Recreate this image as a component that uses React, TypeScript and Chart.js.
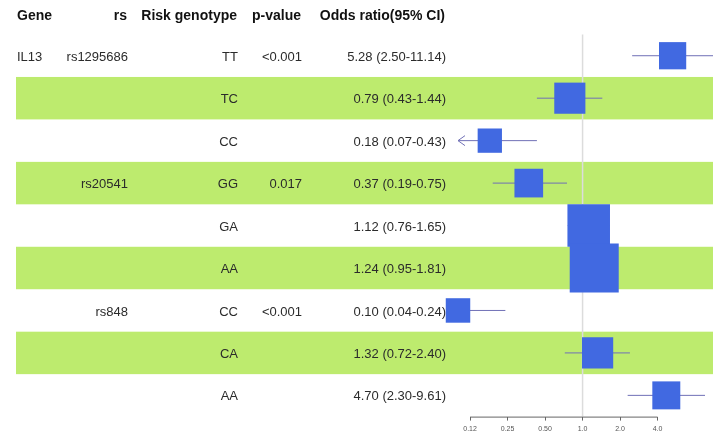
import { useEffect, useRef } from "react";
import { Chart, registerables } from "chart.js";

Chart.register(...registerables);

// Table columns
const genes = ["IL13", "", "", "", "", "", "", "", ""];
const snps = ["rs1295686", "", "", "rs20541", "", "", "rs848", "", ""];
const genotypes = ["TT", "TC", "CC", "GG", "GA", "AA", "CC", "CA", "AA"];
const pValues = ["<0.001", "", "", "0.017", "", "", "<0.001", "", ""];
const headers = ["Gene", "rs", "Risk genotype", "p-value", "Odds ratio(95% CI)"];

// Odds ratios with 95% confidence intervals
const oddsRatios = [5.28, 0.79, 0.18, 0.37, 1.12, 1.24, 0.1, 1.32, 4.7];
const ciLower = [2.5, 0.43, 0.07, 0.19, 0.76, 0.95, 0.04, 0.72, 2.3];
const ciUpper = [11.14, 1.44, 0.43, 0.75, 1.65, 1.81, 0.24, 2.4, 9.61];

// Axis
const tickValues = [0.125, 0.25, 0.5, 1, 2, 4];
const tickLabels = ["0.12", "0.25", "0.50", "1.0", "2.0", "4.0"];
const xLimits = [0.1, 11.14];

const FONT = "'Liberation Sans', Arial, Helvetica, sans-serif";
const BAND = "#bdeb6e";
const BOX = "#4169e1";
const CI_LINE = "#7070b6";

// column anchors: [x, align]
const columns: [number, CanvasTextAlign][] = [
  [17, "left"],
  [128, "right"],
  [238, "right"],
  [302, "right"],
  [446, "right"],
];

const ciText = oddsRatios.map(
  (v, i) => `${v.toFixed(2)} (${ciLower[i].toFixed(2)}-${ciUpper[i].toFixed(2)})`
);

// box side grows with precision (inverse standard error on the log scale)
const boxSides = oddsRatios.map((_, i) => {
  const se = Math.log(ciUpper[i] / ciLower[i]) / 3.92;
  return 10.7 + 6.3 / se;
});

const tablePlugin = {
  id: "forestTable",
  beforeDatasetsDraw(chart: any) {
    const { ctx, chartArea, scales } = chart;
    const y = scales.y;
    const x = scales.x;
    ctx.save();
    // alternating row bands
    genotypes.forEach((_, i) => {
      if (i % 2 === 1) {
        const top = y.getPixelForValue(i + 0.5);
        const bottom = y.getPixelForValue(i + 1.5);
        ctx.fillStyle = BAND;
        ctx.fillRect(16, top, chartArea.right - 16, bottom - top);
      }
    });
    // reference line at OR = 1
    const x1 = x.getPixelForValue(1);
    ctx.strokeStyle = "#dcdcdc";
    ctx.lineWidth = 1.5;
    ctx.beginPath();
    ctx.moveTo(x1, chartArea.top);
    ctx.lineTo(x1, chartArea.bottom);
    ctx.stroke();
    // arrows for intervals running past the lower limit
    ctx.strokeStyle = CI_LINE;
    ctx.lineWidth = 1;
    ciLower.forEach((lo, i) => {
      if (lo < xLimits[0]) {
        const ax = x.getPixelForValue(xLimits[0]);
        const ay = y.getPixelForValue(i + 1);
        ctx.beginPath();
        ctx.moveTo(ax + 7, ay - 5);
        ctx.lineTo(ax, ay);
        ctx.lineTo(ax + 7, ay + 5);
        ctx.stroke();
      }
    });
    // text
    ctx.textBaseline = "middle";
    ctx.fillStyle = "#111";
    ctx.font = `bold 14px ${FONT}`;
    const headY = y.getPixelForValue(0) + 2.5;
    headers.forEach((h, c) => {
      const [cx, align] = columns[c];
      ctx.textAlign = align;
      ctx.fillText(h, c === 0 ? cx : cx - 1, headY);
    });
    ctx.font = `13px ${FONT}`;
    ctx.fillStyle = "#2b2b2b";
    genotypes.forEach((g, i) => {
      const ry = y.getPixelForValue(i + 1) + 1.5;
      const cells = [genes[i], snps[i], g, pValues[i], ciText[i]];
      cells.forEach((t, c) => {
        if (!t) return;
        const [cx, align] = columns[c];
        ctx.textAlign = align;
        ctx.fillText(t, cx, ry);
      });
    });
    ctx.restore();
  },
  afterDraw(chart: any) {
    const { ctx, chartArea, scales } = chart;
    const x = scales.x;
    ctx.save();
    ctx.strokeStyle = "#666";
    ctx.lineWidth = 1;
    ctx.beginPath();
    ctx.moveTo(x.getPixelForValue(tickValues[0]), chartArea.bottom + 0.5);
    ctx.lineTo(x.getPixelForValue(tickValues[tickValues.length - 1]), chartArea.bottom + 0.5);
    ctx.stroke();
    ctx.restore();
  },
};

export default function App() {
  const canvasRef = useRef<HTMLCanvasElement>(null);

  useEffect(() => {
    if (!canvasRef.current) return;
    const rows = genotypes.map((_, i) => i + 1);

    const ciDatasets = rows.map((r, i) => ({
      data: [
        { x: Math.max(ciLower[i], xLimits[0]), y: r },
        { x: Math.min(ciUpper[i], xLimits[1]), y: r },
      ],
      showLine: true,
      borderColor: CI_LINE,
      borderWidth: 1,
      pointRadius: 0,
      order: 2,
    }));

    const chart = new Chart(canvasRef.current, {
      type: "scatter",
      data: {
        datasets: [
          {
            data: rows.map((r, i) => ({ x: oddsRatios[i], y: r })),
            pointStyle: "rect",
            pointRadius: boxSides.map((s) => s / Math.SQRT2),
            backgroundColor: BOX,
            borderWidth: 0,
            clip: false as any,
            order: 1,
          },
          ...ciDatasets,
        ] as any,
      },
      options: {
        animation: false,
        responsive: false,
        devicePixelRatio: 1,
        events: [],
        layout: {
          autoPadding: false,
          padding: { left: 458, right: 4, top: 34.5, bottom: 0 },
        },
        plugins: { legend: { display: false }, tooltip: { enabled: false } },
        scales: {
          x: {
            type: "logarithmic",
            min: xLimits[0],
            max: xLimits[1],
            afterBuildTicks: (scale: any) => {
              scale.ticks = tickValues.map((v) => ({ value: v }));
            },
            grid: {
              drawOnChartArea: false,
              drawTicks: true,
              tickLength: 4,
              color: "#666",
              tickColor: "#666",
            },
            border: { display: false },
            ticks: {
              autoSkip: false,
              maxRotation: 0,
              padding: 4.5,
              color: "#555",
              font: { family: FONT, size: 7 },
              callback: (_v: any, idx: number) => tickLabels[idx],
            },
          },
          y: {
            type: "linear",
            min: 0.5,
            max: 9.5,
            reverse: true,
            display: false,
          },
        },
      },
      plugins: [tablePlugin],
    });
    return () => chart.destroy();
  }, []);

  return (
    <div
      style={{
        position: "fixed",
        left: 0,
        top: 0,
        width: 717,
        height: 438,
        background: "#fff",
      }}
    >
      <canvas ref={canvasRef} width={717} height={438} />
    </div>
  );
}
